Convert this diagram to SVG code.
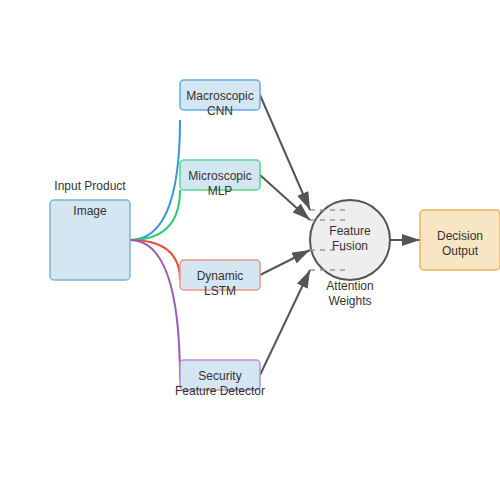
<svg xmlns="http://www.w3.org/2000/svg" width="500" height="500" viewBox="0 0 500 500">
<style>
text{font-family:"Liberation Sans",Arial,sans-serif;font-size:12px;fill:#333;text-anchor:middle}
.box{fill:#d4e6f1;stroke-width:1.5}
.conn{fill:none;stroke:#555;stroke-width:2}
.curve{fill:none;stroke-width:2}
.att{fill:none;stroke:#999;stroke-width:1.5;stroke-dasharray:5,5}
</style>
<defs>
<marker id="arrow" viewBox="0 0 12 8" refX="12" refY="4" markerWidth="9" markerHeight="6" orient="auto" markerUnits="strokeWidth">
<path d="M0,0 L12,4 L0,8 z" fill="#555"/>
</marker>
</defs>
<rect width="500" height="500" fill="#fff"/>
<g id="connectors">
<path class="curve" d="M130,240 Q180,240 180,120" stroke="#3498db"/>
<path class="curve" d="M130,240 Q180,240 180,190" stroke="#2ecc71"/>
<path class="curve" d="M130,240 Q180,240 180,280" stroke="#e74c3c"/>
<path class="curve" d="M130,240 Q180,240 180,380" stroke="#9b59b6"/>
<line class="conn" x1="260" y1="95" x2="310" y2="210" marker-end="url(#arrow)"/>
<line class="conn" x1="260" y1="175" x2="310" y2="220" marker-end="url(#arrow)"/>
<line class="conn" x1="260" y1="275" x2="310" y2="250" marker-end="url(#arrow)"/>
<line class="conn" x1="260" y1="375" x2="310" y2="270" marker-end="url(#arrow)"/>
<line class="conn" x1="390" y1="240" x2="420" y2="240" marker-end="url(#arrow)"/>
</g>
<g id="input">
<rect class="box" x="50" y="200" width="80" height="80" rx="4" stroke="#7fb3d5"/>
<text x="90" y="190">Input Product</text>
<text x="90" y="215">Image</text>
</g>
<g id="cnn">
<rect class="box" x="180" y="80" width="80" height="30" rx="4" stroke="#5dade2"/>
<text x="220" y="100">Macroscopic</text>
<text x="220" y="115">CNN</text>
</g>
<g id="mlp">
<rect class="box" x="180" y="160" width="80" height="30" rx="4" stroke="#58d68d"/>
<text x="220" y="180">Microscopic</text>
<text x="220" y="195">MLP</text>
</g>
<g id="lstm">
<rect class="box" x="180" y="260" width="80" height="30" rx="4" stroke="#f1948a"/>
<text x="220" y="280">Dynamic</text>
<text x="220" y="295">LSTM</text>
</g>
<g id="security">
<rect class="box" x="180" y="360" width="80" height="30" rx="4" stroke="#bb8fce"/>
<text x="220" y="380">Security</text>
<text x="220" y="395">Feature Detector</text>
</g>
<g id="fusion">
<circle cx="350" cy="240" r="40" fill="#eeeeee" stroke="#555" stroke-width="2"/>
<line class="att" x1="310" y1="210" x2="345" y2="210"/>
<line class="att" x1="310" y1="220" x2="345" y2="220"/>
<line class="att" x1="310" y1="250" x2="345" y2="250"/>
<line class="att" x1="310" y1="270" x2="345" y2="270"/>
<text x="350" y="235">Feature</text>
<text x="350" y="250">Fusion</text>
<text x="350" y="290">Attention</text>
<text x="350" y="305">Weights</text>
</g>
<g id="decision">
<rect x="420" y="210" width="80" height="60" rx="4" fill="#f8e5c4" stroke="#f0b060" stroke-width="1.5"/>
<text x="460" y="240">Decision</text>
<text x="460" y="255">Output</text>
</g>
</svg>
